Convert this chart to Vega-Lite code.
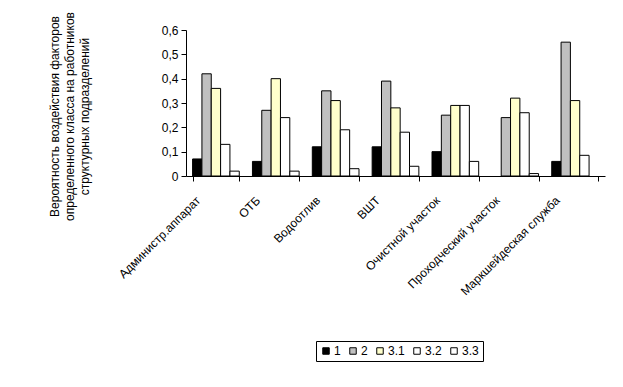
{
  "$schema": "https://vega.github.io/schema/vega-lite/v6.json",
  "autosize": "none",
  "width": 419,
  "height": 146,
  "padding": {"left": 186, "top": 30, "right": 18, "bottom": 211},
  "background": "white",
  "config": {
    "view": {"stroke": null},
    "font": "Liberation Sans"
  },
  "data": {
    "values": [
      {"unit": "Администр.аппарат", "cls": "1", "p": 0.07},
      {"unit": "Администр.аппарат", "cls": "2", "p": 0.42},
      {"unit": "Администр.аппарат", "cls": "3.1", "p": 0.36},
      {"unit": "Администр.аппарат", "cls": "3.2", "p": 0.13},
      {"unit": "Администр.аппарат", "cls": "3.3", "p": 0.02},
      {"unit": "ОТБ", "cls": "1", "p": 0.06},
      {"unit": "ОТБ", "cls": "2", "p": 0.27},
      {"unit": "ОТБ", "cls": "3.1", "p": 0.40},
      {"unit": "ОТБ", "cls": "3.2", "p": 0.24},
      {"unit": "ОТБ", "cls": "3.3", "p": 0.02},
      {"unit": "Водоотлив", "cls": "1", "p": 0.12},
      {"unit": "Водоотлив", "cls": "2", "p": 0.35},
      {"unit": "Водоотлив", "cls": "3.1", "p": 0.31},
      {"unit": "Водоотлив", "cls": "3.2", "p": 0.19},
      {"unit": "Водоотлив", "cls": "3.3", "p": 0.03},
      {"unit": "ВШТ", "cls": "1", "p": 0.12},
      {"unit": "ВШТ", "cls": "2", "p": 0.39},
      {"unit": "ВШТ", "cls": "3.1", "p": 0.28},
      {"unit": "ВШТ", "cls": "3.2", "p": 0.18},
      {"unit": "ВШТ", "cls": "3.3", "p": 0.04},
      {"unit": "Очистной участок", "cls": "1", "p": 0.10},
      {"unit": "Очистной участок", "cls": "2", "p": 0.25},
      {"unit": "Очистной участок", "cls": "3.1", "p": 0.29},
      {"unit": "Очистной участок", "cls": "3.2", "p": 0.29},
      {"unit": "Очистной участок", "cls": "3.3", "p": 0.06},
      {"unit": "Проходческий участок", "cls": "2", "p": 0.24},
      {"unit": "Проходческий участок", "cls": "3.1", "p": 0.32},
      {"unit": "Проходческий участок", "cls": "3.2", "p": 0.26},
      {"unit": "Проходческий участок", "cls": "3.3", "p": 0.01},
      {"unit": "Маркшейдеская служба", "cls": "1", "p": 0.06},
      {"unit": "Маркшейдеская служба", "cls": "2", "p": 0.55},
      {"unit": "Маркшейдеская служба", "cls": "3.1", "p": 0.31},
      {"unit": "Маркшейдеская служба", "cls": "3.2", "p": 0.085}
    ]
  },
  "mark": {"type": "bar", "stroke": "black", "strokeWidth": 1},
  "encoding": {
    "x": {
      "field": "unit",
      "type": "nominal",
      "sort": null,
      "scale": {"paddingInner": 0.22, "paddingOuter": 0.11},
      "axis": {
        "title": null,
        "labelAngle": -45,
        "labelAlign": "right",
        "labelBaseline": "middle",
        "labelFontSize": 12,
        "labelColor": "black",
        "labelPadding": 17,
        "labelOffset": -18,
        "tickBand": "extent",
        "tickSize": 5,
        "tickColor": "black",
        "domainColor": "black",
        "labelLimit": 300
      }
    },
    "xOffset": {
      "field": "cls",
      "type": "nominal",
      "sort": ["1", "2", "3.1", "3.2", "3.3"],
      "scale": {"domain": ["1", "2", "3.1", "3.2", "3.3"], "paddingInner": 0, "paddingOuter": 0}
    },
    "y": {
      "field": "p",
      "type": "quantitative",
      "scale": {"domain": [0, 0.6], "nice": false},
      "axis": {
        "title": ["Вероятность воздействия факторов", "определенного класса на работников", "структурных подразделений"],
        "titleFontSize": 12,
        "titleFontWeight": "normal",
        "titleColor": "black",
        "titleLineHeight": 15,
        "titlePadding": 70,
        "titleY": 86,
        "values": [0, 0.1, 0.2, 0.3, 0.4, 0.5, 0.6],
        "labelExpr": "datum.value == 0 ? '0' : replace(format(datum.value, '.1f'), '.', ',')",
        "labelFontSize": 12,
        "labelColor": "black",
        "labelPadding": 3,
        "tickSize": 5,
        "tickColor": "black",
        "domainColor": "black",
        "grid": false
      }
    },
    "fill": {
      "field": "cls",
      "type": "nominal",
      "scale": {
        "domain": ["1", "2", "3.1", "3.2", "3.3"],
        "range": ["#000000", "#c0c0c0", "#ffffcc", "#ffffff", "#ffffff"]
      },
      "legend": {
        "title": null,
        "orient": "none",
        "legendX": 130,
        "legendY": 311,
        "direction": "horizontal",
        "columns": 5,
        "symbolType": "square",
        "symbolSize": 42,
        "symbolStrokeColor": "black",
        "symbolStrokeWidth": 1,
        "labelFontSize": 12,
        "labelColor": "black",
        "labelOffset": 2,
        "columnPadding": 6,
        "strokeColor": "black",
        "padding": 4,
        "fillColor": "white"
      }
    }
  }
}
